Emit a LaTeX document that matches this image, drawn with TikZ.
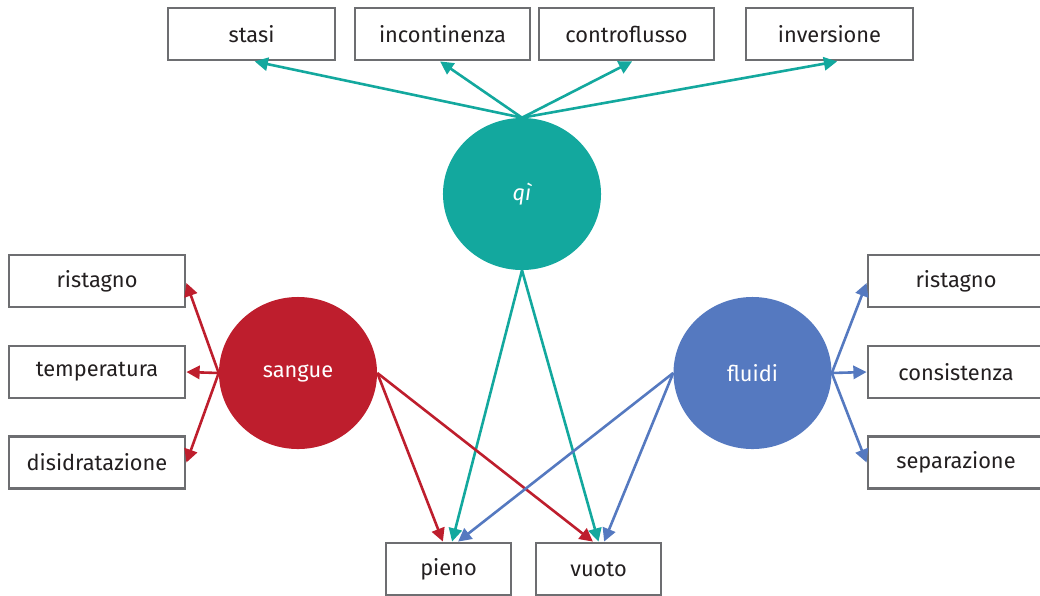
\documentclass[tikz,border=0pt]{standalone}
\usepackage{fontspec}
\setmainfont{Fira Sans}
\usetikzlibrary{arrows.meta,shapes.geometric}
\definecolor{qicol}{HTML}{13A89E}
\definecolor{xuecol}{HTML}{BE1E2D}
\definecolor{fluidcol}{HTML}{5579C0}
\definecolor{boxcol}{HTML}{6D6E71}
\definecolor{txtcol}{HTML}{231F20}

\begin{document}
\begin{tikzpicture}[x=0.025cm,y=-0.025cm,
  every node/.style={font=\fontsize{15.5}{18}\selectfont},
  box/.style={draw=boxcol,line width=0.07cm,fill=white,text=txtcol,
    minimum height=1.3cm,inner sep=0pt},
  blob/.style={ellipse,minimum width=3.95cm,minimum height=3.8cm,
    inner sep=0pt,text=white},
  link/.style={line width=0.065cm,-{Triangle[length=0.33cm,width=0.33cm]}}]

\useasboundingbox (0,0) rectangle (1040,595);

% nodes
\node (qi) [blob,fill=qicol] at (522,194) {\itshape qì};
\node (sangue) [blob,fill=xuecol] at (298,373) {sangue};
\node (fluidi) [blob,fill=fluidcol] at (752.5,373) {fluidi};

\node (stasi) [box,minimum width=4.175cm] at (251.5,34) {stasi};
\node (incont) [box,minimum width=4.375cm] at (442.5,34) {incontinenza};
\node (controfl) [box,minimum width=4.375cm] at (626.5,34) {controflusso};
\node (invers) [box,minimum width=4.175cm] at (829.5,34) {inversione};

\node (ristS) [box,minimum width=4.4cm] at (97,281) {ristagno};
\node (temp) [box,minimum width=4.4cm] at (97,372) {temperatura};
\node (disid) [box,minimum width=4.4cm] at (97,462.5) {disidratazione};

\node (ristF) [box,minimum width=4.4cm] at (956,281) {ristagno};
\node (consist) [box,minimum width=4.4cm] at (956,372) {consistenza};
\node (separ) [box,minimum width=4.4cm] at (956,462.5) {separazione};

\node (pieno) [box,minimum width=3.125cm] at (448.5,569) {pieno};
\node (vuoto) [box,minimum width=3.125cm] at (598.5,569) {vuoto};

% arrows
\draw[link,qicol] (qi.north) -- ([xshift=0.08cm]stasi.south);
\draw[link,qicol] (qi.north) -- ([xshift=-0.06cm]incont.south);
\draw[link,qicol] (qi.north) -- ([xshift=0.14cm]controfl.south);
\draw[link,qicol] (qi.north) -- ([xshift=0.19cm]invers.south);
\draw[link,qicol] (qi.south) -- ([xshift=0.09cm]pieno.north);
\draw[link,qicol] (qi.south) -- (vuoto.north);

\draw[link,xuecol] (sangue.west) -- ([yshift=-0.05cm]ristS.east);
\draw[link,xuecol] (sangue.west) -- (temp.east);
\draw[link,xuecol] (sangue.west) -- (disid.east);
\draw[link,xuecol] (sangue.east) -- ([xshift=-0.14cm]pieno.north);
\draw[link,xuecol] (sangue.east) -- ([xshift=-0.14cm]vuoto.north);

\draw[link,fluidcol] (fluidi.east) -- ([yshift=-0.05cm]ristF.west);
\draw[link,fluidcol] (fluidi.east) -- (consist.west);
\draw[link,fluidcol] (fluidi.east) -- (separ.west);
\draw[link,fluidcol] (fluidi.west) -- ([xshift=0.24cm]pieno.north);
\draw[link,fluidcol] (fluidi.west) -- ([xshift=0.14cm]vuoto.north);
\end{tikzpicture}
\end{document}
